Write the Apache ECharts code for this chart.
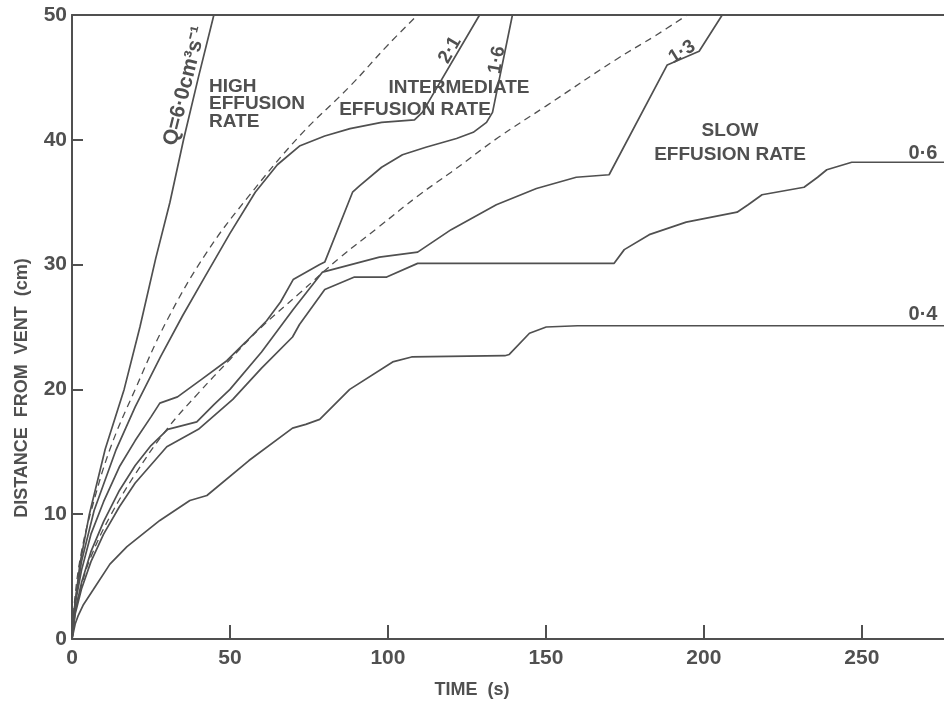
<!DOCTYPE html>
<html><head><meta charset="utf-8">
<script src="https://cdn.jsdelivr.net/npm/echarts@6/dist/echarts.min.js"></script>
<style>html,body{margin:0;padding:0;background:#fff}#c{width:944px;height:701px}</style>
</head><body><div id="c"></div>
<script>
// Tick values
const xTicks = [0, 50, 100, 150, 200, 250];
const yTicks = [0, 10, 20, 30, 40, 50];
// Curves: [time (s), distance (cm)]
const q60 = [[0,0],[0.8,2.5],[2.5,6],[5.5,10],[10.5,15.2],[16.5,20],[21.5,25],[26.5,30.5],[31,35],[35.3,40],[40,45],[44.9,50]];
const dashHigh = [[0,0],[1,3.5],[3,7],[6,10.2],[12,15.2],[20,20],[30,25.5],[42.7,31],[56,35.5],[72,40.3],[88,44.3],[100,47.6],[109.4,50]];
const q21 = [[0,0],[1,3],[3,6.2],[7,10.3],[14,15.2],[20,18.6],[28,22.6],[35,25.9],[42,29],[50,32.5],[58,35.8],[65,38],[72,39.5],[80,40.3],[88,40.9],[98,41.4],[108.4,41.6],[110.9,42.2],[129,50]];
const q16 = [[0,0],[1,2.8],[3,5.5],[6,8.4],[10,11],[15,13.8],[20,15.9],[25,17.8],[27.8,18.9],[33.4,19.4],[41,20.8],[49,22.3],[55,23.8],[61.6,25.5],[66,27],[70,28.8],[78.4,30],[80,30.2],[88.8,35.8],[91,36.3],[98,37.8],[104.6,38.8],[112,39.4],[121.7,40.1],[127,40.6],[131.2,41.4],[133.1,42.2],[139.4,50]];
const dashLow = [[0,0],[1,2.2],[3,4.3],[6,6.6],[12,9.8],[20,13.2],[30,16.8],[40,19.7],[50,22.4],[60,25],[72,27.7],[85,30.6],[97,33],[110,35.6],[120,37.4],[135,40.2],[150,42.7],[172,46.4],[185,48.4],[194.7,50]];
const q13 = [[0,0],[1,2.2],[3,4.5],[6,7],[10,9.4],[15,11.9],[20,13.9],[25,15.5],[30.3,16.8],[39.5,17.4],[45,18.8],[50,20],[60,23],[70,26.4],[79.3,29.4],[97.3,30.6],[109.4,31],[120,32.8],[134.3,34.8],[147,36.1],[159.6,37],[170,37.2],[188.4,46],[198.5,47.1],[205.8,50]];
const q06 = [[0,0],[1,2],[3,4],[6,6.2],[10,8.4],[15,10.6],[20,12.5],[30,15.4],[40,16.8],[50.9,19.2],[60,21.7],[69.8,24.2],[72,25.2],[80,28],[89.4,29],[99.6,29],[109.4,30.1],[171.6,30.1],[174.8,31.2],[182.7,32.4],[194.4,33.4],[210.5,34.2],[214,34.8],[218.4,35.6],[231.7,36.2],[236,37],[238.9,37.6],[246.8,38.2],[276,38.2]];
const q04 = [[0,0],[1,1.2],[2,1.9],[3.5,2.7],[6.6,3.9],[12,6],[17.4,7.4],[27.8,9.5],[37.3,11.1],[42.7,11.5],[56,14.3],[69.8,16.9],[74,17.2],[78.4,17.6],[87.9,20],[101.5,22.2],[107.5,22.6],[137,22.7],[138.4,22.8],[144.8,24.5],[150.1,25],[160,25.1],[276,25.1]];

const INK = '#505050';
const FONT = '"Liberation Sans", Arial, Helvetica, sans-serif';
const chart = echarts.init(document.getElementById('c'), null, {renderer: 'canvas'});

function solid(name, data) {
  return {name, type: 'line', data, showSymbol: false, symbol: 'none', animation: false,
    lineStyle: {color: INK, width: 1.7}, z: 3};
}
function dashed(name, data) {
  return {name, type: 'line', data, showSymbol: false, symbol: 'none', animation: false, smooth: 0.4,
    lineStyle: {color: INK, width: 1.3, type: [7, 5]}, z: 3};
}
function txt(text, x, y, opt) {
  opt = opt || {};
  return {type: 'text', x, y, rotation: (opt.rot || 0) * Math.PI / 180, z: 10,
    style: {text, fill: INK, font: (opt.weight || 'bold') + ' ' + (opt.size || 19) + 'px ' + FONT,
      align: opt.align || 'center', verticalAlign: 'middle', lineHeight: opt.lh || 18}};
}

chart.setOption({
  backgroundColor: '#fff',
  animation: false,
  grid: {left: 72, right: 0, top: 15, bottom: 62},
  xAxis: [{
    type: 'value', min: 0, max: 276, interval: 50,
    axisLine: {show: true, lineStyle: {color: INK, width: 2}},
    axisTick: {show: true, inside: true, length: 14, lineStyle: {color: INK, width: 2},
      customValues: xTicks.filter(v => v > 0)},
    axisLabel: {color: INK, fontSize: 21, fontWeight: 'bold', fontFamily: FONT, margin: 9,
      customValues: xTicks, formatter: v => String(v)},
    splitLine: {show: false}
  }, {
    type: 'value', min: 0, max: 276, position: 'top',
    axisLine: {show: true, onZero: false, lineStyle: {color: INK, width: 2}},
    axisTick: {show: false}, axisLabel: {show: false}, splitLine: {show: false}
  }],
  yAxis: {
    type: 'value', min: 0, max: 50, interval: 10,
    axisLine: {show: true, lineStyle: {color: INK, width: 2}},
    axisTick: {show: true, inside: true, length: 11, lineStyle: {color: INK, width: 2},
      customValues: yTicks.filter(v => v > 0 && v < 50)},
    axisLabel: {color: INK, fontSize: 21, fontWeight: 'bold', fontFamily: FONT, margin: 5,
      customValues: yTicks, formatter: v => String(v)},
    splitLine: {show: false}
  },
  series: [
    solid('Q=6.0', q60), dashed('theory high', dashHigh), solid('2.1', q21), solid('1.6', q16),
    dashed('theory low', dashLow), solid('1.3', q13), solid('0.6', q06), solid('0.4', q04)
  ],
  graphic: [
    txt('DISTANCE  FROM  VENT  (cm)', 22, 388, {rot: 90, size: 18}),
    txt('TIME  (s)', 472, 690, {size: 18}),
    txt('Q=6·0cm³s⁻¹', 185, 86, {rot: 76, size: 21}),
    txt('HIGH\nEFFUSION\nRATE', 209, 104, {align: 'left', lh: 17.5}),
    txt('INTERMEDIATE', 459, 88),
    txt('EFFUSION RATE', 415, 110),
    txt('2·1', 450, 50, {rot: 60}),
    txt('1·6', 497, 60, {rot: 80}),
    txt('1·3', 682, 52, {rot: 32}),
    txt('SLOW', 730, 131),
    txt('EFFUSION RATE', 730, 155),
    txt('0·6', 923, 153, {size: 20}),
    txt('0·4', 923, 314, {size: 20})
  ]
});
</script></body></html>
